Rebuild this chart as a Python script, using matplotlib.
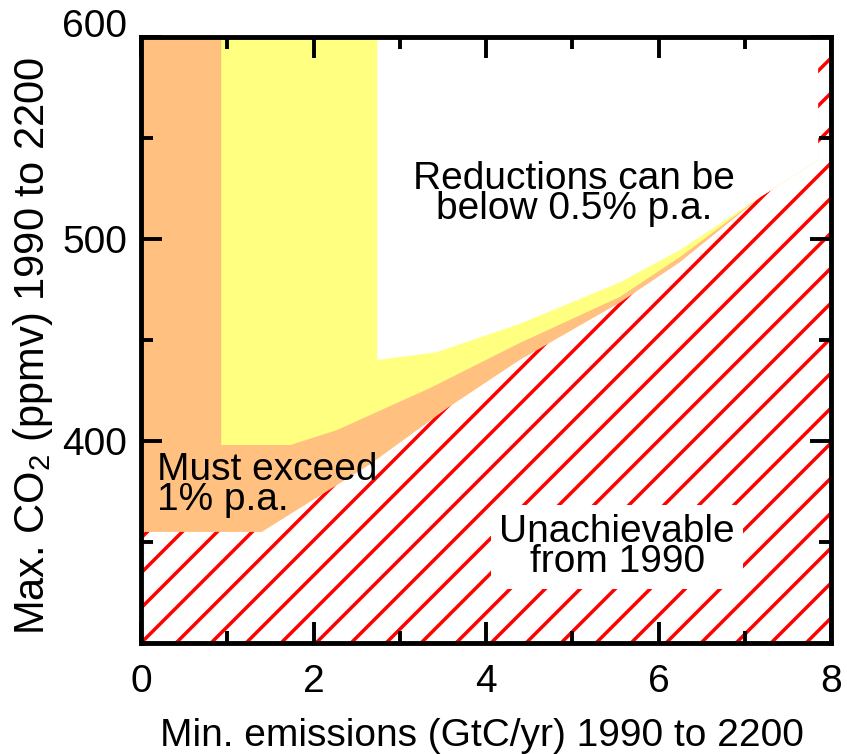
import matplotlib
matplotlib.use("Agg")
import numpy as np
import matplotlib.pyplot as plt
from matplotlib.patches import Polygon

plt.rcParams['font.family'] = ['Liberation Sans', 'DejaVu Sans']
plt.rcParams['mathtext.fontset'] = 'custom'
plt.rcParams['mathtext.rm'] = 'Liberation Sans'
plt.rcParams['mathtext.default'] = 'regular'

# Axis ranges and ticks
x_range = (0, 8)
y_range = (300, 600)
x_major = [0, 2, 4, 6, 8]
x_minor = [1, 3, 5, 7]
y_major = [400, 500, 600]
y_minor = [350, 450, 550]

# Lower edge of the region where emission reductions must exceed 1% p.a.
exceed1_x = [0.0, 1.40, 2.66, 3.55, 4.39, 5.55, 6.25, 7.18, 7.85]
exceed1_y = [355, 355, 388.6, 416.3, 440.1, 468.5, 488.6, 520.8, 539.1]

# Lower edge of the region where reductions of 0.5-1% p.a. suffice
exceed05_x = [0.93, 1.73, 2.27, 2.66, 3.35, 4.39, 5.55, 6.25, 7.18, 7.85]
exceed05_y = [398, 398, 405.4, 412.9, 426.2, 448.5, 471.3, 491.1, 520.8, 539.1]

# Lower edge of the region where reductions can be below 0.5% p.a.
below05_x = [2.74, 3.43, 4.39, 5.55, 6.25, 7.18, 7.85]
below05_y = [440.1, 444.0, 458.0, 478.5, 494.6, 520.8, 539.1]

ORANGE = "#ffc080"
YELLOW = "#ffff80"
RED = "#ff0000"
FS = 28
LS = 0.8

fig = plt.figure(figsize=(8.47, 7.54), dpi=100)
ax = fig.add_axes([0.1665, 0.1472, 0.8146, 0.8037])
ax.set_xlim(*x_range)
ax.set_ylim(*y_range)


def region(xs, ys, top, color):
    verts = list(zip(xs, ys)) + [(xs[-1], top), (xs[0], top)]
    return Polygon(verts, closed=True, facecolor=color, edgecolor='none',
                   zorder=1)


# Unachievable background: diagonal red hatching across the axes
fig.canvas.draw()
bb = ax.get_window_extent()
w_px, h_px = bb.width, bb.height
step = 35.0
kmin = -int(np.ceil(h_px / step)) - 1
kmax = int(np.ceil(w_px / step)) + 1
for k in range(kmin, kmax + 1):
    u0 = k * step / w_px
    u1 = (k * step + h_px) / w_px
    ax.plot([u0, u1], [0, 1], transform=ax.transAxes, color=RED, lw=2.5,
            solid_capstyle='butt', zorder=0.5)

ax.add_patch(region(exceed1_x, exceed1_y, y_range[1], ORANGE))
ax.add_patch(region(exceed05_x, exceed05_y, y_range[1], YELLOW))
ax.add_patch(region(below05_x, below05_y, y_range[1], 'white'))

# Region labels (y is the baseline of the last line)
ax.text(5.02, 509.9, "Reductions can be\nbelow 0.5% p.a.", ha='center',
        va='baseline', fontsize=FS, linespacing=LS, zorder=5)
ax.text(0.18, 365.8, "Must exceed\n1% p.a.", ha='left', va='baseline',
        fontsize=FS, linespacing=LS, zorder=5)
ax.text(5.52, 335.1, "Unachievable\nfrom 1990", ha='center', va='baseline',
        fontsize=FS, linespacing=LS, zorder=5,
        bbox=dict(boxstyle='square,pad=0.22', facecolor='white',
                  edgecolor='none'))

# Axes styling
ax.set_xticks(x_major)
ax.set_xticks(x_minor, minor=True)
ax.set_yticks(y_major)
ax.set_yticks(y_minor, minor=True)
ax.tick_params(which='both', direction='in', top=True, right=True,
               labelsize=FS, width=2.8, color='black', zorder=10)
ax.tick_params(which='major', length=15)
ax.tick_params(axis='x', which='major', pad=15)
ax.tick_params(axis='y', which='major', pad=10)
ax.tick_params(which='minor', length=8.5)
for s in ax.spines.values():
    s.set_linewidth(3.5)
    s.set_zorder(10)
ax.set_axisbelow(False)

labels = ax.get_yticklabels()
labels[-1].set_va('baseline')

ax.set_xlabel("Min. emissions (GtC/yr) 1990 to 2200", fontsize=FS)
ax.set_ylabel("Max. CO$_2$ (ppmv) 1990 to 2200", fontsize=30)
ax.xaxis.set_label_coords(0.494, -0.124)
ax.yaxis.set_label_coords(-0.125, 0.49)

fig.savefig("out.png", dpi=100)
